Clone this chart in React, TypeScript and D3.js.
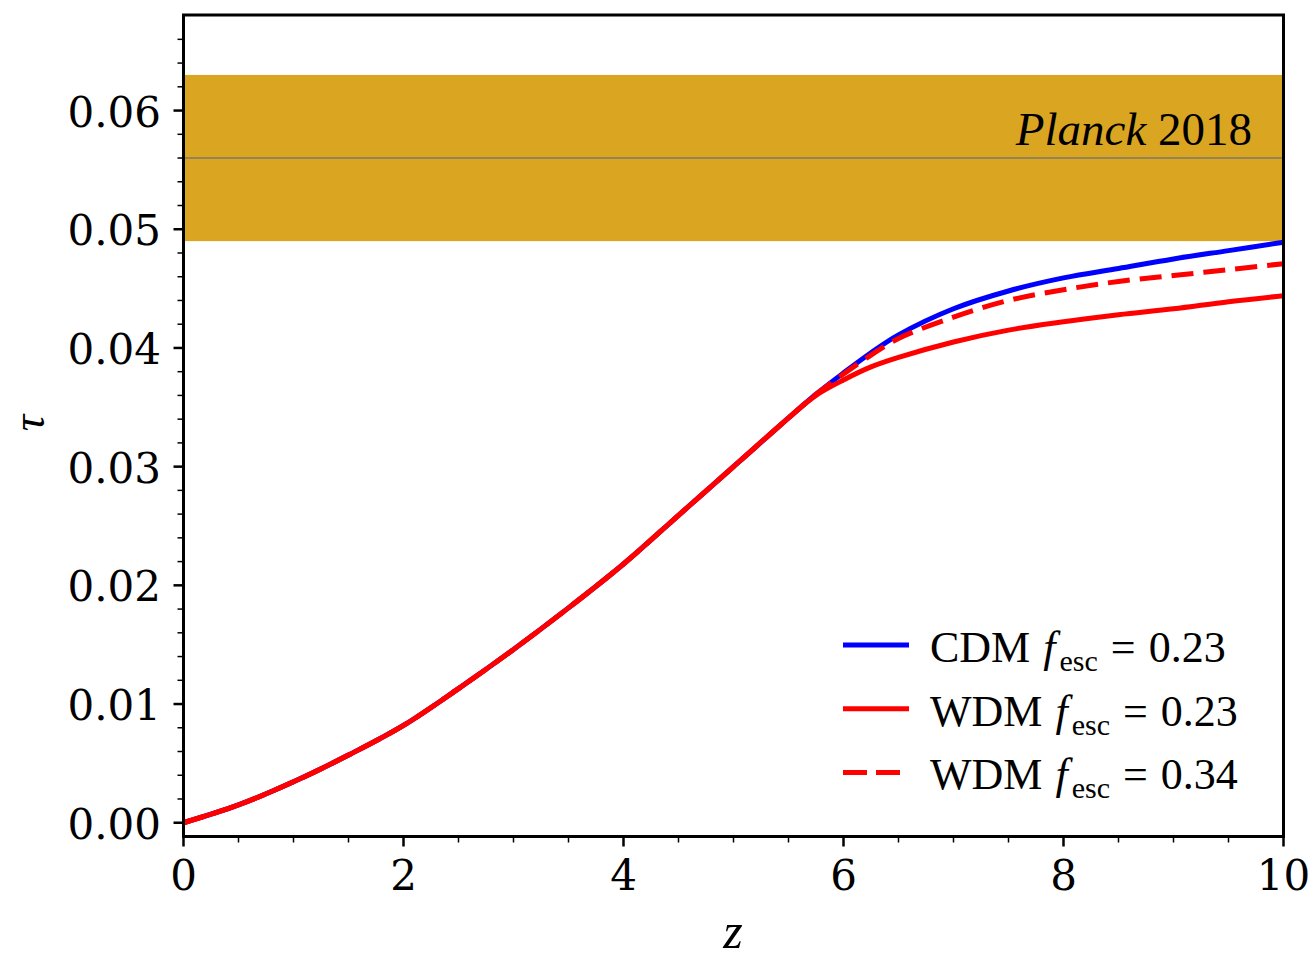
import React from "react";
import * as d3 from "d3";

// redshift grid shared by all three curves
const zValues = [0, 0.5, 1, 1.5, 2, 2.5, 3, 3.5, 4, 4.5, 5, 5.5, 5.75, 6, 6.25, 6.5, 7, 7.5, 8, 8.5, 9, 9.5, 10];

const tauCDM023 = [0, 0.0015, 0.00345, 0.0057, 0.0082, 0.0113, 0.0146, 0.0181, 0.0218, 0.0259, 0.03, 0.0341, 0.0361, 0.0379, 0.0396, 0.0411, 0.0433, 0.0448, 0.0459, 0.0467, 0.0475, 0.0482, 0.0489];
const tauWDM023 = [0, 0.0015, 0.00345, 0.0057, 0.0082, 0.0113, 0.0146, 0.0181, 0.0218, 0.0259, 0.03, 0.0341, 0.036, 0.0373, 0.0384, 0.0392, 0.0405, 0.0415, 0.0422, 0.0428, 0.0433, 0.0439, 0.0444];
const tauWDM034 = [0, 0.0015, 0.00345, 0.0057, 0.0082, 0.0113, 0.0146, 0.0181, 0.0218, 0.0259, 0.03, 0.0341, 0.0361, 0.0378, 0.0394, 0.0408, 0.0426, 0.044, 0.0449, 0.0456, 0.0461, 0.0466, 0.0471];

const planckTau = 0.056;
const planckErr = 0.007;

const xTicks = [0, 2, 4, 6, 8, 10];
const yTicks = [0, 0.01, 0.02, 0.03, 0.04, 0.05, 0.06];

const legendItems = [
  { model: "CDM", fesc: "0.23", color: "blue", dash: "none" },
  { model: "WDM", fesc: "0.23", color: "red", dash: "none" },
  { model: "WDM", fesc: "0.34", color: "red", dash: "24,9" },
];

const App = () => {
  const margin = { left: 183.5, right: 1283.5, top: 15, bottom: 836.5 };

  const x = d3.scaleLinear().domain([0, 10]).range([margin.left, margin.right]);
  const y = d3.scaleLinear().domain([-0.00116, 0.06805]).range([margin.bottom, margin.top]);

  const xMinor = d3.range(0, 10.001, 0.5).filter((v) => Math.abs(v % 2) > 1e-6);
  const yMinor = d3.range(0, 0.068, 0.002).filter((v) => Math.abs(Math.round(v * 1000) % 10) > 0);

  const line = d3
    .line<number>()
    .x((_, i) => x(zValues[i]))
    .y((d) => y(d))
    .curve(d3.curveCatmullRom.alpha(0.5));

  const tickFont = "'DejaVu Serif', serif";
  const mathFont = "'Liberation Serif', 'DejaVu Serif', serif";

  return (
    <svg width={1315} height={962} style={{ position: "absolute", left: 0, top: 0, background: "#fff" }}>
      {/* Planck band */}
      <rect
        x={x(0)}
        y={y(planckTau + planckErr)}
        width={x(10) - x(0)}
        height={y(planckTau - planckErr) - y(planckTau + planckErr)}
        fill="#DAA520"
      />
      <line x1={x(0)} x2={x(10)} y1={y(planckTau)} y2={y(planckTau)} stroke="#7a7a6a" strokeWidth={1.5} />
      <text x={1252} y={145} textAnchor="end" fontFamily={mathFont} fontSize={47}>
        <tspan fontStyle="italic">Planck</tspan> 2018
      </text>

      {/* curves */}
      <path d={line(tauCDM023) || ""} fill="none" stroke="blue" strokeWidth={5} />
      <path d={line(tauWDM023) || ""} fill="none" stroke="red" strokeWidth={5} />
      <path d={line(tauWDM034) || ""} fill="none" stroke="red" strokeWidth={5} strokeDasharray="22,10" />

      {/* frame */}
      <rect
        x={margin.left}
        y={margin.top}
        width={margin.right - margin.left}
        height={margin.bottom - margin.top}
        fill="none"
        stroke="#000"
        strokeWidth={3}
      />

      {/* x ticks */}
      {xTicks.map((t) => (
        <g key={"xt" + t}>
          <line x1={x(t)} x2={x(t)} y1={margin.bottom} y2={margin.bottom + 10} stroke="#000" strokeWidth={2.5} />
          <text x={x(t)} y={890} textAnchor="middle" fontFamily={tickFont} fontSize={42}>
            {t}
          </text>
        </g>
      ))}
      {xMinor.map((t) => (
        <line key={"xm" + t} x1={x(t)} x2={x(t)} y1={margin.bottom} y2={margin.bottom + 6} stroke="#000" strokeWidth={1.5} />
      ))}

      {/* y ticks */}
      {yTicks.map((t) => (
        <g key={"yt" + t}>
          <line x1={margin.left - 10} x2={margin.left} y1={y(t)} y2={y(t)} stroke="#000" strokeWidth={2.5} />
          <text x={161} y={y(t) + 16} textAnchor="end" fontFamily={tickFont} fontSize={42}>
            {t.toFixed(2)}
          </text>
        </g>
      ))}
      {yMinor.map((t) => (
        <line key={"ym" + t} x1={margin.left - 6} x2={margin.left} y1={y(t)} y2={y(t)} stroke="#000" strokeWidth={1.5} />
      ))}

      {/* axis labels */}
      <text x={733} y={948} textAnchor="middle" fontFamily={mathFont} fontStyle="italic" fontSize={50}>
        z
      </text>
      <text
        transform="translate(44,423) rotate(-90)"
        textAnchor="middle"
        fontFamily={mathFont}
        fontStyle="italic"
        fontSize={46}
      >
        τ
      </text>

      {/* legend */}
      {legendItems.map((d, i) => {
        const ly = 645 + i * 63.7;
        return (
          <g key={"lg" + i}>
            <line x1={843} x2={909} y1={ly} y2={ly} stroke={d.color} strokeWidth={5} strokeDasharray={d.dash} />
            <text x={930} y={ly + 17} fontFamily={mathFont} fontSize={44}>
              {d.model}
              <tspan fontStyle="italic" dx={13}>f</tspan>
              <tspan fontSize={30} dy={9} dx={4}>esc</tspan>
              <tspan dy={-9} dx={13}>=</tspan>
              <tspan dx={13}>{d.fesc}</tspan>
            </text>
          </g>
        );
      })}
    </svg>
  );
};

export default App;
